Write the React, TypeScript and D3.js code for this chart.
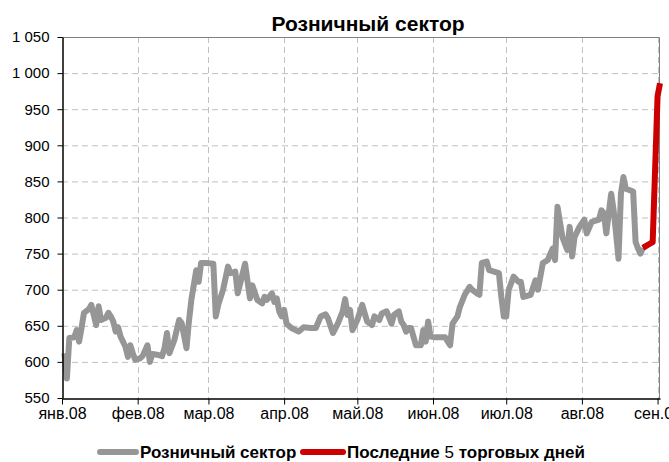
import React, { useEffect, useRef } from "react";
import * as d3 from "d3";

// Розничный сектор, индекс
const retailSeries: [string, number][] = [
  ["2008-01-02", 612], ["2008-01-03", 577], ["2008-01-04", 633], ["2008-01-06", 634],
  ["2008-01-07", 644], ["2008-01-08", 628], ["2008-01-09", 647], ["2008-01-10", 668],
  ["2008-01-12", 673], ["2008-01-13", 679], ["2008-01-15", 651], ["2008-01-16", 677],
  ["2008-01-17", 658], ["2008-01-19", 661], ["2008-01-20", 668], ["2008-01-21", 663],
  ["2008-01-22", 656], ["2008-01-23", 642], ["2008-01-24", 648], ["2008-01-25", 635],
  ["2008-01-27", 621], ["2008-01-28", 607], ["2008-01-29", 623], ["2008-01-30", 612],
  ["2008-01-31", 603], ["2008-02-02", 605], ["2008-02-03", 608], ["2008-02-05", 623],
  ["2008-02-06", 600], ["2008-02-07", 611], ["2008-02-09", 610], ["2008-02-11", 608],
  ["2008-02-12", 619], ["2008-02-13", 640], ["2008-02-14", 612], ["2008-02-16", 630],
  ["2008-02-18", 658], ["2008-02-19", 654], ["2008-02-21", 619], ["2008-02-22", 656],
  ["2008-02-23", 686], ["2008-02-25", 727], ["2008-02-26", 711], ["2008-02-27", 737],
  ["2008-02-29", 737], ["2008-03-03", 736], ["2008-03-04", 663], ["2008-03-05", 679],
  ["2008-03-07", 700], ["2008-03-09", 732], ["2008-03-10", 723], ["2008-03-12", 725],
  ["2008-03-13", 695], ["2008-03-16", 736], ["2008-03-18", 688], ["2008-03-19", 706],
  ["2008-03-20", 696], ["2008-03-21", 686], ["2008-03-23", 681], ["2008-03-24", 690],
  ["2008-03-25", 686], ["2008-03-27", 695], ["2008-03-28", 683], ["2008-03-29", 688],
  ["2008-03-30", 670], ["2008-03-31", 663], ["2008-04-01", 672], ["2008-04-02", 653],
  ["2008-04-04", 647], ["2008-04-07", 642], ["2008-04-09", 648], ["2008-04-12", 647],
  ["2008-04-14", 647], ["2008-04-16", 663], ["2008-04-18", 666], ["2008-04-19", 660],
  ["2008-04-21", 640], ["2008-04-23", 653], ["2008-04-25", 670], ["2008-04-26", 687],
  ["2008-04-27", 665], ["2008-04-28", 672], ["2008-04-29", 644], ["2008-05-01", 658],
  ["2008-05-03", 679], ["2008-05-05", 656], ["2008-05-07", 651], ["2008-05-08", 663],
  ["2008-05-10", 658], ["2008-05-11", 667], ["2008-05-13", 670], ["2008-05-15", 653],
  ["2008-05-16", 665], ["2008-05-18", 670], ["2008-05-19", 656], ["2008-05-20", 651],
  ["2008-05-21", 642], ["2008-05-22", 647], ["2008-05-23", 647], ["2008-05-25", 623],
  ["2008-05-27", 623], ["2008-05-28", 644], ["2008-05-29", 628], ["2008-05-30", 656],
  ["2008-05-31", 635], ["2008-06-02", 634], ["2008-06-06", 634], ["2008-06-08", 623],
  ["2008-06-09", 653], ["2008-06-11", 663], ["2008-06-12", 676], ["2008-06-14", 693],
  ["2008-06-16", 704], ["2008-06-17", 700], ["2008-06-19", 695], ["2008-06-20", 693],
  ["2008-06-21", 737], ["2008-06-23", 739], ["2008-06-24", 727], ["2008-06-26", 725],
  ["2008-06-28", 723], ["2008-06-29", 690], ["2008-06-30", 663], ["2008-07-01", 663],
  ["2008-07-02", 700], ["2008-07-04", 718], ["2008-07-06", 711], ["2008-07-07", 711],
  ["2008-07-08", 690], ["2008-07-11", 693], ["2008-07-13", 713], ["2008-07-14", 700],
  ["2008-07-16", 737], ["2008-07-18", 741], ["2008-07-20", 757], ["2008-07-21", 741],
  ["2008-07-22", 815], ["2008-07-24", 773], ["2008-07-26", 755], ["2008-07-27", 787],
  ["2008-07-28", 746], ["2008-07-29", 773], ["2008-07-31", 787], ["2008-08-02", 797],
  ["2008-08-03", 778], ["2008-08-05", 794], ["2008-08-08", 797], ["2008-08-09", 810],
  ["2008-08-10", 806], ["2008-08-11", 778], ["2008-08-13", 833], ["2008-08-14", 810],
  ["2008-08-15", 778], ["2008-08-16", 743], ["2008-08-17", 833], ["2008-08-18", 856],
  ["2008-08-19", 840], ["2008-08-22", 836], ["2008-08-23", 766], ["2008-08-24", 757],
  ["2008-08-25", 750], ["2008-08-26", 758],
];

// Последние 5 торговых дней (начинается с последней точки серой линии)
const lastDaysSeries: [string, number][] = [
  ["2008-08-26", 758], ["2008-08-27", 760], ["2008-08-29", 764], ["2008-08-30", 766],
  ["2008-09-01", 968], ["2008-09-02", 986],
];

const monthTicks = [
  "2008-01-01", "2008-02-01", "2008-03-01", "2008-04-01", "2008-05-01",
  "2008-06-01", "2008-07-01", "2008-08-01", "2008-09-01",
];
const monthLabels = ["янв.08", "фев.08", "мар.08", "апр.08", "май.08", "июн.08", "июл.08", "авг.08", "сен.08"];
const yTicks = [550, 600, 650, 700, 750, 800, 850, 900, 950, 1000, 1050];

const parse = d3.utcParse("%Y-%m-%d");
const ruFormat = d3.formatLocale({ decimal: ",", thousands: " ", grouping: [3], currency: ["", ""] }).format(",");

export default function App() {
  const ref = useRef<SVGSVGElement>(null);

  useEffect(() => {
    const width = 669;
    const height = 462;
    const margin = { top: 37, left: 62, bottom: 64, right: 9 };
    const font = "'Liberation Sans', Arial, sans-serif";

    const svg = d3.select(ref.current);
    svg.selectAll("*").remove();
    svg.attr("font-family", font);

    const x = d3.scaleUtc()
      .domain([parse("2008-01-01") as Date, parse("2008-09-02") as Date])
      .range([margin.left, width - margin.right]);
    const y = d3.scaleLinear()
      .domain([550, 1050])
      .range([height - margin.bottom, margin.top]);

    const monthDates = monthTicks.map(d => parse(d) as Date);

    // сетка
    const grid = svg.append("g").attr("stroke", "#c0c0c0").attr("stroke-dasharray", "6,4");
    grid.selectAll("line.h").data(yTicks.slice(1, -1)).enter().append("line")
      .attr("x1", margin.left).attr("x2", width - margin.right)
      .attr("y1", d => y(d) + 0.5).attr("y2", d => y(d) + 0.5);
    grid.selectAll("line.v").data(monthDates.slice(1)).enter().append("line")
      .attr("x1", d => Math.round(x(d)) + 0.5).attr("x2", d => Math.round(x(d)) + 0.5)
      .attr("y1", margin.top).attr("y2", height - margin.bottom);

    // рамка сверху и справа
    svg.append("path")
      .attr("d", `M${margin.left},${margin.top + 0.5}H${width - margin.right - 0.5}V${height - margin.bottom}`)
      .attr("fill", "none").attr("stroke", "#808080");

    const line = d3.line<[string, number]>()
      .x(d => x(parse(d[0]) as Date))
      .y(d => y(d[1]));

    svg.append("path").datum(retailSeries)
      .attr("fill", "none").attr("stroke", "#969696").attr("stroke-width", 6)
      .attr("stroke-linejoin", "round").attr("d", line);
    svg.append("path").datum(lastDaysSeries)
      .attr("fill", "none").attr("stroke", "#cc0000").attr("stroke-width", 6)
      .attr("stroke-linejoin", "round").attr("d", line);

    // оси
    const yAxis = svg.append("g")
      .attr("transform", `translate(${margin.left + 0.5},0)`)
      .call(d3.axisLeft(y).tickValues(yTicks).tickSize(5).tickSizeOuter(0).tickPadding(8)
        .tickFormat(d => ruFormat(d as number)));
    const xAxis = svg.append("g")
      .attr("transform", `translate(0,${height - margin.bottom + 0.5})`)
      .call(d3.axisBottom(x).tickValues(monthDates).tickSize(6).tickSizeOuter(0).tickPadding(3)
        .tickFormat((d, i) => monthLabels[i]));
    [yAxis, xAxis].forEach(a => {
      a.select(".domain").attr("stroke", "#000").attr("stroke-width", 1.5);
      a.selectAll(".tick line").attr("stroke", "#000");
      a.selectAll("text").attr("fill", "#000").attr("font-family", font);
    });
    yAxis.selectAll("text").attr("font-size", 15);
    xAxis.selectAll("text").attr("font-size", 16);

    // заголовок
    svg.append("text")
      .attr("x", 368).attr("y", 31)
      .attr("text-anchor", "middle")
      .attr("font-size", 21).attr("font-weight", "bold")
      .text("Розничный сектор");

    // легенда
    const legend = svg.append("g").attr("font-size", 17).attr("font-weight", "bold");
    legend.append("line").attr("x1", 100).attr("x2", 136).attr("y1", 452).attr("y2", 452)
      .attr("stroke", "#969696").attr("stroke-width", 6).attr("stroke-linecap", "round");
    legend.append("text").attr("x", 140).attr("y", 458).text("Розничный сектор");
    legend.append("line").attr("x1", 303).attr("x2", 343).attr("y1", 452).attr("y2", 452)
      .attr("stroke", "#cc0000").attr("stroke-width", 6).attr("stroke-linecap", "round");
    const t = legend.append("text").attr("x", 347).attr("y", 458);
    t.append("tspan").text("Последние ");
    t.append("tspan").attr("font-weight", "normal").text("5");
    t.append("tspan").text(" торговых дней");
  }, []);

  return (
    <svg ref={ref} width={669} height={462}
      style={{ position: "absolute", left: 0, top: 0, background: "#fff" }} />
  );
}
